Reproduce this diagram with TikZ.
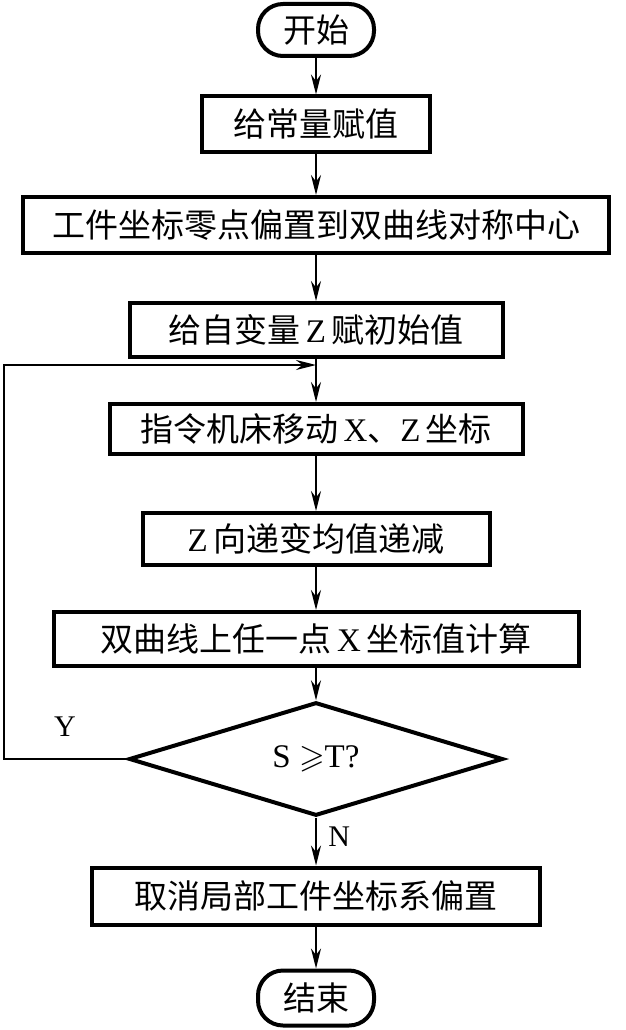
\documentclass[tikz,border=0pt]{standalone}
\usepackage{amssymb}
\usepackage{fontspec}
\setmainfont{Noto Sans CJK SC}
\newfontfamily\lat{Liberation Serif}
\usetikzlibrary{arrows.meta,shapes.geometric}

\begin{document}
\begin{tikzpicture}[x=1pt, y=-1pt, >={Stealth[length=20pt,width=10pt]},
    box/.style={draw, line width=4pt, inner sep=0pt, font=\fontsize{33}{33}\selectfont},
    term/.style={box, rounded corners=25pt, minimum width=116pt},
    link/.style={line width=2.2pt, ->},
    tag/.style={font=\lat\fontsize{30}{30}\selectfont}]
    % Parameters
    \def\cx{316}
    \def\loopx{4}
    \def\loopy{365}

    \useasboundingbox (0,0) rectangle (625,1030);

    % Start and end
    \node[term, minimum height=52pt] (start) at (\cx,30) {开始};
    \node[term, minimum height=55pt] (stop) at (\cx,998) {结束};

    % Process boxes
    \node[box, minimum width=228pt, minimum height=55pt] (const) at (\cx,124) {给常量赋值};
    \node[box, minimum width=586pt, minimum height=56pt] (offset) at (\cx,225) {工件坐标零点偏置到双曲线对称中心};
    \node[box, minimum width=373pt, minimum height=54pt] (init) at (\cx,330) {给自变量{\lat\,Z\,}赋初始值};
    \node[box, minimum width=413pt, minimum height=50pt] (move) at (\cx,429) {指令机床移动{\lat\,X}、{\lat Z\,}坐标};
    \node[box, minimum width=347pt, minimum height=52pt] (zstep) at (\cx,539) {{\lat Z\,}向递变均值递减};
    \node[box, minimum width=525pt, minimum height=54pt] (xcalc) at (\cx,639) {双曲线上任一点{\lat\,X\,}坐标值计算};
    \node[box, minimum width=448pt, minimum height=57pt] (cancel) at (\cx,896) {取消局部工件坐标系偏置};

    % Decision
    \node[draw, diamond, line width=4pt, inner sep=0pt, minimum width=374pt, minimum height=94pt,
        font=\lat\fontsize{33}{33}\selectfont] (check) at (\cx,759) {S $\geqslant$T?};

    % Main flow
    \draw[link] (start) -- (const);
    \draw[link] (const) -- (offset);
    \draw[link] (offset) -- (init);
    \draw[link] (init) -- (move);
    \draw[link] (move) -- (zstep);
    \draw[link] (zstep) -- (xcalc);
    \draw[link] (xcalc) -- (check);
    \draw[link] (check) -- (cancel) node[tag, pos=0.4, right=8pt] {N};
    \draw[link] (cancel) -- (stop);

    % Loop back
    \coordinate (join) at (\cx,\loopy);
    \coordinate (back) at (\loopx,\loopy);
    \draw[link] (check.west) -| (back) -- (join);
    \node[tag] (yes) at (65,727) {Y};
\end{tikzpicture}
\end{document}
